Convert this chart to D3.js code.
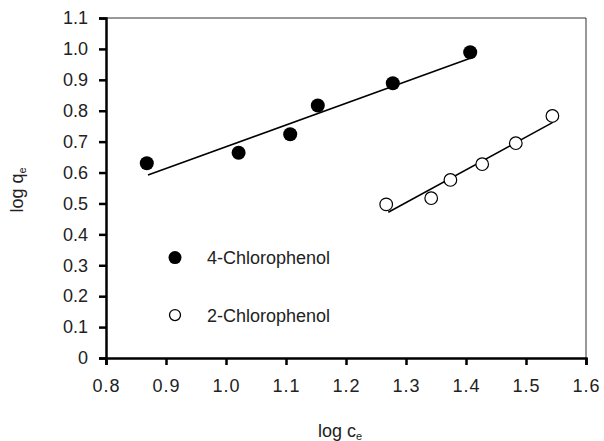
<!DOCTYPE html>
<html>
<head>
<meta charset="utf-8">
<script src="https://cdn.jsdelivr.net/npm/d3@7"></script>
<style>
  body { margin: 0; background: #fff; }
  text { font-family: "Liberation Sans", Arial, sans-serif; fill: #222; }
</style>
</head>
<body>
<div id="chart"></div>
<script>
// data
const chloro4X = [0.868, 1.021, 1.107, 1.153, 1.278, 1.407];
const chloro4Y = [0.630, 0.664, 0.724, 0.817, 0.889, 0.989];
const chloro2X = [1.267, 1.342, 1.374, 1.427, 1.483, 1.544];
const chloro2Y = [0.497, 0.517, 0.576, 0.627, 0.695, 0.783];
// fitted lines, [x0, y0, x1, y1]
const fit4 = [0.870, 0.592, 1.407, 0.970];
const fit2 = [1.2705, 0.4715, 1.544, 0.7615];
const xTicks = [0.8, 0.9, 1.0, 1.1, 1.2, 1.3, 1.4, 1.5, 1.6];
const yTicks = [0, 0.1, 0.2, 0.3, 0.4, 0.5, 0.6, 0.7, 0.8, 0.9, 1.0, 1.1];
const legendNames = ["4-Chlorophenol", "2-Chlorophenol"];

const width = 604, height = 441;
const margin = { top: 18, right: 18, bottom: 83, left: 106 };

const svg = d3.select("#chart").append("svg")
    .attr("width", width)
    .attr("height", height);

const x = d3.scaleLinear().domain([0.8, 1.6]).range([margin.left, width - margin.right]);
const y = d3.scaleLinear().domain([0, 1.1]).range([height - margin.bottom, margin.top]);

// thin frame on top and right
svg.append("line")
    .attr("x1", x(0.8)).attr("x2", x(1.6))
    .attr("y1", y(1.1)).attr("y2", y(1.1))
    .attr("stroke", "#333").attr("stroke-width", 1);
svg.append("line")
    .attr("x1", x(1.6)).attr("x2", x(1.6))
    .attr("y1", y(1.1)).attr("y2", y(0))
    .attr("stroke", "#333").attr("stroke-width", 1);

// y axis
const yAxis = svg.append("g")
    .attr("transform", `translate(${x(0.8)},0)`)
    .call(d3.axisLeft(y).tickValues(yTicks)
        .tickFormat(d => d === 0 ? "0" : d3.format(".1f")(d))
        .tickSize(7).tickPadding(11));
yAxis.select(".domain").attr("stroke", "#000").attr("stroke-width", 2.5);
yAxis.selectAll(".tick line").attr("stroke", "#000").attr("stroke-width", 2.5);
yAxis.selectAll(".tick text")
    .style("font-size", "18px")
    .style("font-family", "Liberation Sans, Arial, sans-serif")
    .attr("fill", "#222");

// x axis
const xAxis = svg.append("g")
    .attr("transform", `translate(0,${y(0)})`)
    .call(d3.axisBottom(x).tickValues(xTicks)
        .tickFormat(d3.format(".1f"))
        .tickSize(7).tickPadding(14));
xAxis.select(".domain").attr("stroke", "#000").attr("stroke-width", 2.5);
xAxis.selectAll(".tick line").attr("stroke", "#000").attr("stroke-width", 2.5);
xAxis.selectAll(".tick text")
    .style("font-size", "18px")
    .style("letter-spacing", "1px")
    .style("font-family", "Liberation Sans, Arial, sans-serif")
    .attr("fill", "#222");

// fitted lines
[fit4, fit2].forEach(f => {
    svg.append("line")
        .attr("x1", x(f[0])).attr("y1", y(f[1]))
        .attr("x2", x(f[2])).attr("y2", y(f[3]))
        .attr("stroke", "#000").attr("stroke-width", 1.5);
});

// points
svg.append("g").selectAll("circle")
    .data(d3.zip(chloro4X, chloro4Y))
    .join("circle")
    .attr("cx", d => x(d[0]))
    .attr("cy", d => y(d[1]))
    .attr("r", 7)
    .attr("fill", "#000");

svg.append("g").selectAll("circle")
    .data(d3.zip(chloro2X, chloro2Y))
    .join("circle")
    .attr("cx", d => x(d[0]))
    .attr("cy", d => y(d[1]))
    .attr("r", 6.3)
    .attr("fill", "#fff")
    .attr("stroke", "#000")
    .attr("stroke-width", 1.2);

// legend
const legend = svg.append("g");
legendNames.forEach((name, i) => {
    const ly = y(0.325) + i * 57.5;
    if (i === 0) {
        legend.append("circle").attr("cx", x(0.915)).attr("cy", ly).attr("r", 6.5).attr("fill", "#000");
    } else {
        legend.append("circle").attr("cx", x(0.915)).attr("cy", ly).attr("r", 5.5)
            .attr("fill", "#fff").attr("stroke", "#000").attr("stroke-width", 1.3);
    }
    legend.append("text")
        .attr("x", x(0.915) + 32)
        .attr("y", ly)
        .attr("dy", "0.36em")
        .style("font-size", "18px")
        .text(name);
});

// axis titles
const xt = svg.append("text")
    .attr("x", 340)
    .attr("y", 437)
    .attr("text-anchor", "middle")
    .style("font-size", "18px");
xt.append("tspan").text("log c");
xt.append("tspan").attr("dy", 3).style("font-size", "11px").text("e");

const yt = svg.append("text")
    .attr("transform", "translate(23,190) rotate(-90)")
    .attr("text-anchor", "middle")
    .style("font-size", "18px");
yt.append("tspan").text("log q");
yt.append("tspan").attr("dy", 3).style("font-size", "11px").text("e");
</script>
</body>
</html>
